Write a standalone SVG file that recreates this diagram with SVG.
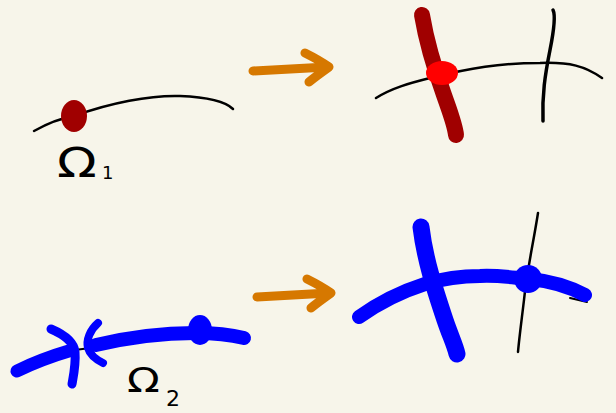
<svg xmlns="http://www.w3.org/2000/svg" width="616" height="413" viewBox="0 0 616 413">
<defs>
<style>
.thin{fill:none;stroke:#000;stroke-linecap:round;stroke-linejoin:round}
.arrow{fill:none;stroke:#d67800;stroke-width:9;stroke-linecap:round;stroke-linejoin:round}
.blue{fill:none;stroke:#0000ff;stroke-linecap:round;stroke-linejoin:round}
.lbl{font-family:"DejaVu Sans",sans-serif;fill:#000}
</style>
</defs>
<rect width="616" height="413" fill="#f7f5ea"/>
<g id="top-left">
<path class="thin" stroke-width="2.5" d="M34,131 C50,122 62,118 74,116 C110,103 150,95 180,96 C205,97 225,101 233,109"/>
<ellipse cx="74" cy="116" rx="13" ry="16" fill="#a00000"/>
<text class="lbl" transform="translate(57,177) scale(1.3,1)" font-size="40">Ω</text>
<text class="lbl" x="102" y="179" font-size="18">1</text>
</g>
<g id="top-right">
<path class="thin" stroke-width="2.5" d="M376,98 C392,88 410,83 430,78 C470,68 500,63 540,63 C570,62 585,66 602,78"/>
<path class="thin" stroke-width="3.5" d="M553,10 C556,16 554,30 550,50 C545,75 542,95 543,121"/>
<path fill="none" stroke="#a00000" stroke-width="16" stroke-linecap="round" d="M422,15 C427,45 435,70 444,95 C451,115 455,125 456,135"/>
<ellipse cx="442" cy="73" rx="16" ry="12" fill="#ff0000"/>
</g>
<g id="bottom-left">
<path class="thin" stroke-width="2" d="M75,350 L90,348"/>
<path class="blue" stroke-width="13" d="M17,371 C35,362 55,355 72,350"/>
<path class="blue" stroke-width="9" d="M51,329 C65,335 74,343 75,352 C76,365 73,378 72,384"/>
<path class="blue" stroke-width="8" d="M98,323 C90,330 86,340 88,348 C90,355 97,360 103,363"/>
<path class="blue" stroke-width="14" d="M96,345 C130,337 160,333 195,333 C215,333 232,335 244,338"/>
<ellipse cx="200" cy="330" rx="12" ry="15" fill="#0000ff"/>
<text class="lbl" transform="translate(127,392) scale(1.3,1)" font-size="33">Ω</text>
<text class="lbl" x="166" y="406" font-size="22">2</text>
</g>
<g id="bottom-right">
<path class="thin" stroke-width="2.5" d="M538,213 C533,245 527,270 524,300 C521,325 519,340 518,352"/>
<path class="thin" stroke-width="2" d="M570,298 L587,302"/>
<path class="blue" stroke-width="14" d="M359,317 C380,302 400,292 425,284 C445,278 460,276 480,276 C500,275 515,278 530,279 C550,281 568,286 585,295"/>
<path class="blue" stroke-width="17" d="M421,227 C425,260 435,290 445,320 C450,335 455,345 457,354"/>
<ellipse cx="528" cy="279" rx="14" ry="14" fill="#0000ff"/>
</g>
<g id="connectors">
<path class="arrow" d="M253,71 L327,67 M305,53 C315,58 322,62 329,67 C322,72 315,77 309,82"/>
<path class="arrow" d="M257,297 L329,293 M307,279 C317,284 324,288 331,293 C324,298 317,303 311,308"/>
</g>
</svg>
